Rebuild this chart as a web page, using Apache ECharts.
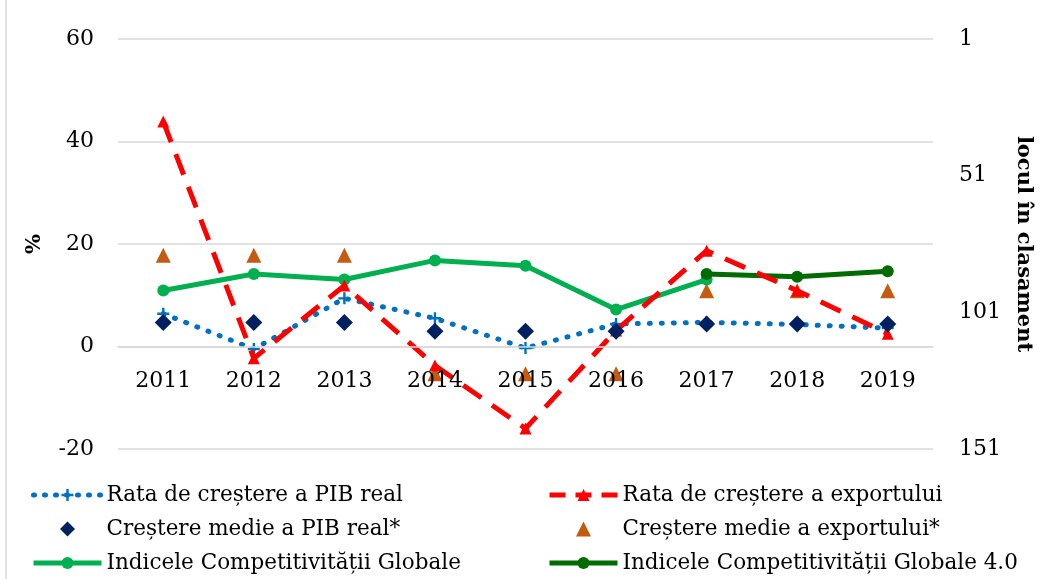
<!DOCTYPE html>
<html>
<head>
<meta charset="utf-8">
<script src="https://cdn.jsdelivr.net/npm/echarts@6/dist/echarts.min.js"></script>
<style>
  html, body { margin: 0; padding: 0; background: #fff; }
  #main { width: 1042px; height: 579px; }
</style>
</head>
<body>
<div id="main"></div>
<script>
var years = ['2011','2012','2013','2014','2015','2016','2017','2018','2019'];
var leftTicks = [-20, 0, 20, 40, 60];
var rightTicks = [1, 51, 101, 151];
var pibReal = [6.4, -0.5, 9.4, 5.5, -0.3, 4.4, 4.7, 4.3, 3.6];
var exportRate = [43.9, -2.3, 11.9, -3.7, -16.0, 3.1, 18.7, 10.9, 2.5];
var pibMedie = [4.7, 4.7, 4.7, 3.0, 3.0, 3.0, 4.4, 4.4, 4.4];
var exportMedie = [17.8, 17.8, 17.8, -5.3, -5.3, -5.3, 10.9, 10.9, 10.9];
var gci = [93, 87, 89, 82, 84, 100, 89, null, null];
var gci40 = [null, null, null, null, null, null, 87, 88, 86];

var names = [
    'Rata de creștere a PIB real',
    'Rata de creștere a exportului',
    'Creștere medie a PIB real*',
    'Creștere medie a exportului*',
    'Indicele Competitivității Globale',
    'Indicele Competitivității Globale 4.0'
];

var font = 'DejaVu Serif';
var plus = 'path://M4,0L6,0L6,4L10,4L10,6L6,6L6,10L4,10L4,6L0,6L0,4L4,4Z';
var diamondIcon = 'path://M5,0L10,5L5,10L0,5Z';
var triangleIcon = 'path://M5,0L10,10L0,10Z';

// the x axis sits on the 0 line of the left axis
var gridTop = 39, gridBottom = 130, plotH = 579 - gridTop - gridBottom;
var zeroShift = -plotH * (0 - leftTicks[0]) / (leftTicks[leftTicks.length - 1] - leftTicks[0]);

var chart = echarts.init(document.getElementById('main'));
var legendText = { fontFamily: font, fontSize: 21.5, color: '#000' };
option = {
    backgroundColor: '#fff',
    animation: false,
    textStyle: { fontFamily: font },
    grid: { left: 118, right: 106, top: gridTop, bottom: gridBottom },
    graphic: [{
        type: 'rect',
        shape: { x: 6, y: -5, width: 1050, height: 600 },
        style: { fill: 'none', stroke: '#d9d9d9', lineWidth: 1.5 },
        silent: true
    }],
    legend: [{
        orient: 'vertical',
        left: 31,
        top: 484,
        padding: 0,
        itemWidth: 68,
        itemHeight: 15,
        itemGap: 12,
        data: [
            { name: names[0], lineStyle: { type: [1, 10], cap: 'round', width: 5 } },
            { name: names[2], icon: diamondIcon },
            { name: names[4], lineStyle: { width: 5 } }
        ],
        textStyle: legendText
    }, {
        orient: 'vertical',
        left: 547,
        top: 484,
        padding: 0,
        itemWidth: 68,
        itemHeight: 15,
        itemGap: 12,
        data: [
            { name: names[1], lineStyle: { type: [16, 10], width: 5 } },
            { name: names[3], icon: triangleIcon },
            { name: names[5], lineStyle: { width: 5 } }
        ],
        textStyle: legendText
    }],
    xAxis: {
        type: 'category',
        data: years,
        z: 10,
        offset: zeroShift,
        axisLine: { onZero: false, lineStyle: { color: '#d9d9d9', width: 1.5 } },
        axisTick: { show: false },
        axisLabel: { fontSize: 22, color: '#000', margin: 24, fontFamily: font }
    },
    yAxis: [{
        type: 'value',
        min: leftTicks[0],
        max: leftTicks[leftTicks.length - 1],
        interval: 20,
        name: '%',
        nameLocation: 'middle',
        nameGap: 73,
        nameTextStyle: { fontSize: 21, fontWeight: 'bold', color: '#000', fontFamily: font },
        axisLine: { show: false },
        axisTick: { show: false },
        axisLabel: { fontSize: 22, color: '#000', margin: 24, fontFamily: font },
        splitLine: { lineStyle: { color: '#d9d9d9', width: 1.5 } }
    }, {
        type: 'value',
        inverse: true,
        min: rightTicks[0],
        max: rightTicks[rightTicks.length - 1],
        interval: 50,
        position: 'right',
        name: 'locul în clasament',
        nameLocation: 'middle',
        nameGap: 80,
        nameRotate: -90,
        nameTextStyle: { fontSize: 21, fontWeight: 'bold', color: '#000', fontFamily: font },
        axisLine: { show: false },
        axisTick: { show: false },
        axisLabel: { fontSize: 22, color: '#000', margin: 26, fontFamily: font },
        splitLine: { show: false }
    }],
    series: [{
        name: names[0],
        type: 'line',
        data: pibReal,
        symbol: plus,
        symbolSize: 12,
        itemStyle: { color: '#0070c0' },
        lineStyle: { color: '#0070c0', width: 5, type: [1, 11], cap: 'round' },
        z: 3
    }, {
        name: names[1],
        type: 'line',
        data: exportRate,
        symbol: 'triangle',
        symbolSize: 12,
        itemStyle: { color: '#ff0000' },
        lineStyle: { color: '#ff0000', width: 5, type: [22, 13] },
        z: 4
    }, {
        name: names[2],
        type: 'scatter',
        data: pibMedie,
        symbol: 'diamond',
        symbolSize: 17,
        itemStyle: { color: '#002060', opacity: 1 },
        z: 5
    }, {
        name: names[3],
        type: 'scatter',
        data: exportMedie,
        symbol: 'triangle',
        symbolSize: 15,
        itemStyle: { color: '#c55a11', opacity: 1 },
        z: 2
    }, {
        name: names[4],
        type: 'line',
        yAxisIndex: 1,
        data: gci,
        symbol: 'circle',
        symbolSize: 12,
        itemStyle: { color: '#00b050' },
        lineStyle: { color: '#00b050', width: 5 },
        z: 3
    }, {
        name: names[5],
        type: 'line',
        yAxisIndex: 1,
        data: gci40,
        symbol: 'circle',
        symbolSize: 12,
        itemStyle: { color: '#006b00' },
        lineStyle: { color: '#006b00', width: 5 },
        z: 3
    }]
};
chart.setOption(option);
</script>
</body>
</html>
